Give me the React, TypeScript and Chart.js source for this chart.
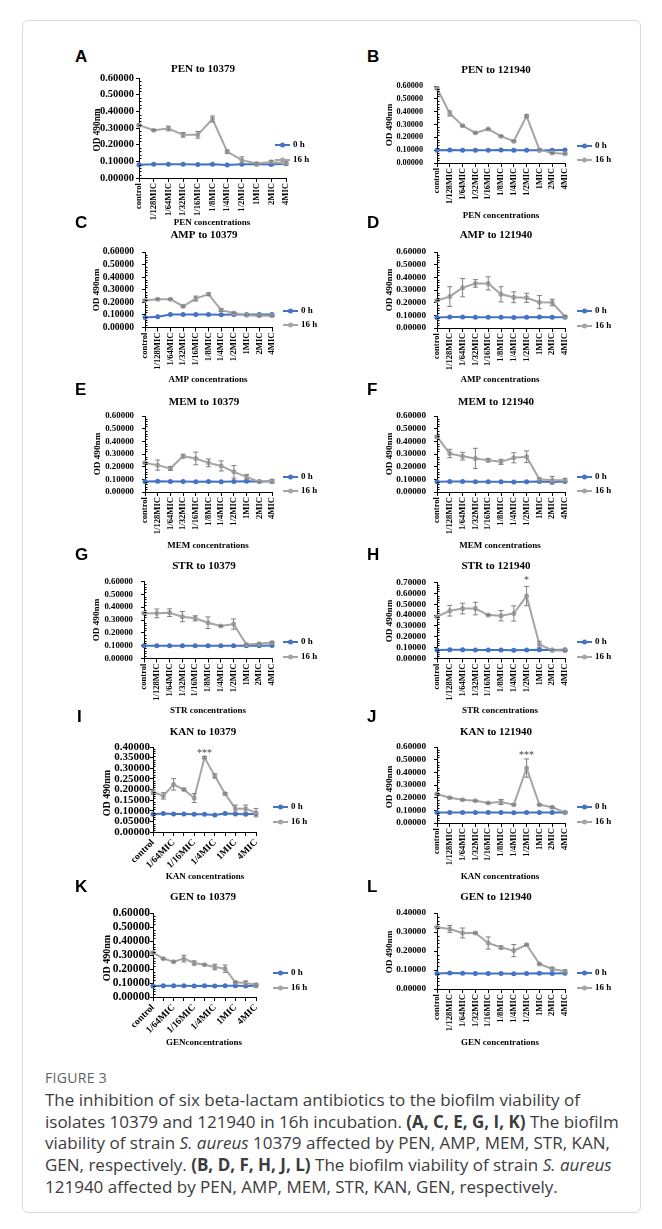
import React, { useEffect, useRef } from "react";
import { Chart, registerables } from "chart.js";
Chart.register(...registerables);

const categories = ["control", "1/128MIC", "1/64MIC", "1/32MIC", "1/16MIC", "1/8MIC", "1/4MIC", "1/2MIC", "1MIC", "2MIC", "4MIC"];
const seriesLabels = ["0 h", "16 h"];

// A  PEN to 10379
const pen10379_0h = [0.080, 0.083, 0.083, 0.082, 0.081, 0.082, 0.078, 0.083, 0.083, 0.081, 0.085];
const pen10379_16h = [0.317, 0.287, 0.297, 0.259, 0.259, 0.354, 0.158, 0.107, 0.087, 0.096, 0.087];
const pen10379_err = [0.006, 0.004, 0.014, 0.014, 0.020, 0.018, 0.010, 0.020, 0.004, 0.010, 0.010];
// B  PEN to 121940
const pen121940_0h = [0.100, 0.102, 0.100, 0.100, 0.100, 0.101, 0.099, 0.100, 0.100, 0.100, 0.102];
const pen121940_16h = [0.582, 0.386, 0.290, 0.235, 0.264, 0.209, 0.170, 0.366, 0.104, 0.078, 0.073];
const pen121940_err = [0.010, 0.020, 0.006, 0.005, 0.006, 0.005, 0.005, 0.010, 0.004, 0.004, 0.004];
// C  AMP to 10379
const amp10379_0h = [0.079, 0.085, 0.104, 0.103, 0.103, 0.103, 0.102, 0.103, 0.103, 0.103, 0.103];
const amp10379_16h = [0.217, 0.225, 0.225, 0.169, 0.230, 0.265, 0.138, 0.116, 0.098, 0.093, 0.093];
const amp10379_err = [0.005, 0.004, 0.004, 0.008, 0.020, 0.010, 0.010, 0.005, 0.005, 0.005, 0.005];
// D  AMP to 121940
const amp121940_0h = [0.083, 0.086, 0.086, 0.085, 0.084, 0.085, 0.082, 0.085, 0.086, 0.084, 0.085];
const amp121940_16h = [0.217, 0.248, 0.318, 0.352, 0.352, 0.266, 0.243, 0.238, 0.204, 0.201, 0.091];
const amp121940_err = [0.006, 0.078, 0.072, 0.030, 0.052, 0.060, 0.043, 0.036, 0.052, 0.026, 0.006];
// E  MEM to 10379
const mem10379_0h = [0.082, 0.085, 0.083, 0.082, 0.081, 0.083, 0.080, 0.082, 0.084, 0.082, 0.085];
const mem10379_16h = [0.230, 0.212, 0.185, 0.283, 0.265, 0.230, 0.206, 0.159, 0.119, 0.080, 0.085];
const mem10379_err = [0.006, 0.040, 0.015, 0.015, 0.050, 0.030, 0.040, 0.050, 0.020, 0.004, 0.015];
// F  MEM to 121940
const mem121940_0h = [0.080, 0.082, 0.082, 0.081, 0.080, 0.081, 0.079, 0.080, 0.082, 0.079, 0.082];
const mem121940_16h = [0.437, 0.304, 0.283, 0.265, 0.251, 0.238, 0.270, 0.278, 0.100, 0.093, 0.093];
const mem121940_err = [0.008, 0.033, 0.030, 0.080, 0.013, 0.020, 0.040, 0.046, 0.010, 0.030, 0.015];
// G  STR to 10379
const str10379_0h = [0.100, 0.100, 0.100, 0.100, 0.099, 0.100, 0.099, 0.100, 0.100, 0.099, 0.101];
const str10379_16h = [0.352, 0.352, 0.357, 0.326, 0.313, 0.279, 0.253, 0.268, 0.109, 0.115, 0.125];
const str10379_err = [0.006, 0.034, 0.030, 0.040, 0.020, 0.045, 0.005, 0.040, 0.004, 0.004, 0.005];
// H  STR to 121940
const str121940_0h = [0.078, 0.080, 0.080, 0.079, 0.078, 0.079, 0.077, 0.079, 0.080, 0.078, 0.080];
const str121940_16h = [0.385, 0.440, 0.460, 0.460, 0.400, 0.394, 0.415, 0.575, 0.129, 0.077, 0.071];
const str121940_err = [0.006, 0.049, 0.049, 0.058, 0.006, 0.048, 0.070, 0.089, 0.030, 0.004, 0.004];
// I  KAN to 10379
const kan10379_0h = [0.083, 0.087, 0.085, 0.085, 0.083, 0.084, 0.080, 0.087, 0.085, 0.083, 0.086];
const kan10379_16h = [0.188, 0.170, 0.224, 0.200, 0.160, 0.350, 0.264, 0.180, 0.110, 0.110, 0.091];
const kan10379_err = [0.010, 0.015, 0.027, 0.005, 0.021, 0.005, 0.010, 0.005, 0.017, 0.017, 0.020];
// J  KAN to 121940
const kan121940_0h = [0.082, 0.083, 0.083, 0.082, 0.082, 0.083, 0.081, 0.083, 0.083, 0.082, 0.083];
const kan121940_16h = [0.229, 0.200, 0.184, 0.176, 0.158, 0.166, 0.145, 0.434, 0.145, 0.124, 0.084];
const kan121940_err = [0.005, 0.004, 0.004, 0.004, 0.004, 0.020, 0.004, 0.072, 0.004, 0.006, 0.004];
// K  GEN to 10379
const gen10379_0h = [0.079, 0.081, 0.080, 0.080, 0.079, 0.080, 0.078, 0.080, 0.081, 0.079, 0.081];
const gen10379_16h = [0.317, 0.274, 0.252, 0.274, 0.243, 0.231, 0.214, 0.202, 0.105, 0.100, 0.088];
const gen10379_err = [0.005, 0.005, 0.006, 0.024, 0.015, 0.005, 0.020, 0.026, 0.005, 0.015, 0.006];
// L  GEN to 121940
const gen121940_0h = [0.082, 0.084, 0.083, 0.082, 0.081, 0.082, 0.080, 0.082, 0.083, 0.082, 0.083];
const gen121940_16h = [0.325, 0.316, 0.295, 0.295, 0.242, 0.219, 0.202, 0.233, 0.132, 0.105, 0.093];
const gen121940_err = [0.004, 0.018, 0.026, 0.004, 0.032, 0.008, 0.032, 0.004, 0.004, 0.010, 0.007];

const panelLetters = ["A", "B", "C", "D", "E", "F", "G", "H", "I", "J", "K", "L"];
const panelTitles = ["PEN to 10379", "PEN to 121940", "AMP to 10379", "AMP to 121940", "MEM to 10379", "MEM to 121940", "STR to 10379", "STR to 121940", "KAN to 10379", "KAN to 121940", "GEN to 10379", "GEN to 121940"];
const xAxisTitles = ["PEN concentrations", "PEN concentrations", "AMP concentrations", "AMP concentrations", "MEM concentrations", "MEM concentrations", "STR concentrations", "STR concentrations", "KAN concentrations", "KAN concentrations", "GENconcentrations", "GEN concentrations"];
const yAxisTitle = "OD 490nm";
const yAxisMax = [0.6, 0.6, 0.6, 0.6, 0.6, 0.6, 0.6, 0.7, 0.4, 0.6, 0.6, 0.4];
const yAxisStep = [0.1, 0.1, 0.1, 0.1, 0.1, 0.1, 0.1, 0.1, 0.05, 0.1, 0.1, 0.1];
const significance = [null, null, null, null, null, null, null, { index: 7, text: "*" }, { index: 5, text: "***" }, { index: 7, text: "***" }, null, null];

const series0h = [pen10379_0h, pen121940_0h, amp10379_0h, amp121940_0h, mem10379_0h, mem121940_0h, str10379_0h, str121940_0h, kan10379_0h, kan121940_0h, gen10379_0h, gen121940_0h];
const series16h = [pen10379_16h, pen121940_16h, amp10379_16h, amp121940_16h, mem10379_16h, mem121940_16h, str10379_16h, str121940_16h, kan10379_16h, kan121940_16h, gen10379_16h, gen121940_16h];
const series16hErr = [pen10379_err, pen121940_err, amp10379_err, amp121940_err, mem10379_err, mem121940_err, str10379_err, str121940_err, kan10379_err, kan121940_err, gen10379_err, gen121940_err];

// Layout (page pixel coordinates)
type Lay = {
  plot: [number, number, number, number];
  tickFont: number; tickPad: number; labelFont: number; rot: number;
  title: [number, number]; xTitle: [number, number]; yTitle: [number, number]; yTitleFont: number;
  legend: [number, number, number]; letter: [number, number]; starY: number;
};
const layouts: Lay[] = [
  { plot: [139, 78, 286, 178], tickFont: 10.5, tickPad: 2, labelFont: 8.6, rot: 90, title: [203, 69], xTitle: [212, 223], yTitle: [98, 130], yTitleFont: 9.3, legend: [275, 145, 160], letter: [75, 57], starY: 0 },
  { plot: [437, 86, 565, 163], tickFont: 8.2, tickPad: 11, labelFont: 8.3, rot: 90, title: [496, 70], xTitle: [501, 216], yTitle: [390, 125], yTitleFont: 9.2, legend: [577, 146, 160], letter: [367, 57], starY: 0 },
  { plot: [145, 252, 272, 327.5], tickFont: 9.6, tickPad: 8, labelFont: 8.6, rot: 90, title: [204, 235], xTitle: [208, 380], yTitle: [97, 290], yTitleFont: 9.2, legend: [283, 311, 325], letter: [75, 223], starY: 0 },
  { plot: [437, 252, 565, 328], tickFont: 9.2, tickPad: 8, labelFont: 8.6, rot: 90, title: [496, 235], xTitle: [500, 380], yTitle: [390, 290], yTitleFont: 9.2, legend: [577, 311, 326], letter: [367, 223], starY: 0 },
  { plot: [145, 416, 272, 492], tickFont: 8.9, tickPad: 8, labelFont: 8.6, rot: 90, title: [204, 402], xTitle: [208, 546], yTitle: [98, 454], yTitleFont: 9.2, legend: [283, 477, 491], letter: [75, 390], starY: 0 },
  { plot: [437, 416, 565, 492], tickFont: 9.2, tickPad: 8, labelFont: 8.6, rot: 90, title: [496, 402], xTitle: [500, 546], yTitle: [390, 454], yTitleFont: 9.2, legend: [577, 477, 491], letter: [367, 390], starY: 0 },
  { plot: [144, 581.5, 272, 658.5], tickFont: 8.8, tickPad: 8, labelFont: 8.6, rot: 90, title: [204, 566], xTitle: [208, 711], yTitle: [97, 620], yTitleFont: 9.2, legend: [283, 642, 657], letter: [75, 555], starY: 0 },
  { plot: [437, 582.5, 565, 658.5], tickFont: 9.2, tickPad: 8, labelFont: 8.6, rot: 90, title: [496, 566], xTitle: [500, 711], yTitle: [390, 621], yTitleFont: 9.2, legend: [577, 642, 657], letter: [367, 555], starY: 578 },
  { plot: [153, 747, 256, 832], tickFont: 11, tickPad: 0, labelFont: 9.5, rot: 45, title: [203, 732], xTitle: [205, 877], yTitle: [107, 793], yTitleFont: 10, legend: [273, 807, 822], letter: [77, 717], starY: 751 },
  { plot: [437, 747, 565, 823], tickFont: 9.2, tickPad: 8, labelFont: 8.6, rot: 90, title: [496, 732], xTitle: [500, 877], yTitle: [390, 787], yTitleFont: 9.2, legend: [577, 807, 822], letter: [367, 717], starY: 753 },
  { plot: [153, 913, 256, 997], tickFont: 11.5, tickPad: 0, labelFont: 9.5, rot: 45, title: [203, 897], xTitle: [204, 1043], yTitle: [107, 958], yTitleFont: 10, legend: [273, 973, 988], letter: [75, 887], starY: 0 },
  { plot: [437, 913, 565, 989], tickFont: 9.2, tickPad: 8, labelFont: 8.6, rot: 90, title: [496, 897], xTitle: [500, 1043], yTitle: [390, 952], yTitleFont: 9.2, legend: [577, 973, 988], letter: [367, 887], starY: 0 },
];

const SERIF = "'Liberation Serif', 'Times New Roman', serif";
const BLUE = "#4472C4";
const GRAY = "#A5A5A5";
const ERR = "#7F7F7F";

function canvasRect(i: number): [number, number, number, number] {
  const L = layouts[i];
  const x = i % 2 === 0 ? 30 : 330;
  const y = L.title[1] - 12;
  const h = L.xTitle[1] + 9 - y;
  return [x, y, 300, h];
}

function makeChart(canvas: HTMLCanvasElement, i: number) {
  const L = layouts[i];
  const [cx, cy, cw, ch] = canvasRect(i);
  const [pl, pt, pr, pb] = L.plot;
  const PADL = 2, PADB = 2;
  const YW = pl - cx - PADL;
  const XH = cy + ch - pb - PADB;
  const v0 = series0h[i], v16 = series16h[i], err = series16hErr[i];
  const sig = significance[i];

  const decor = {
    id: "decor" + i,
    afterDatasetsDraw(chart: any) {
      const ctx = chart.ctx;
      const ys = chart.scales.y;
      const meta = chart.getDatasetMeta(0);
      ctx.save();
      ctx.strokeStyle = ERR;
      ctx.lineWidth = 1;
      meta.data.forEach((p: any, k: number) => {
        const e = err[k];
        const yt = ys.getPixelForValue(v16[k] + e);
        const yb = ys.getPixelForValue(Math.max(0, v16[k] - e));
        ctx.beginPath();
        ctx.moveTo(p.x, yt); ctx.lineTo(p.x, yb);
        ctx.moveTo(p.x - 2.5, yt); ctx.lineTo(p.x + 2.5, yt);
        ctx.moveTo(p.x - 2.5, yb); ctx.lineTo(p.x + 2.5, yb);
        ctx.stroke();
      });
      ctx.restore();
    },
    afterDraw(chart: any) {
      const ctx = chart.ctx;
      const ys = chart.scales.y;
      const xs = chart.scales.x;
      const ca = chart.chartArea;
      ctx.save();
      // minor ticks on the y axis
      ctx.strokeStyle = "#000";
      ctx.lineWidth = 1;
      const step = yAxisStep[i];
      const nMinor = Math.round(yAxisMax[i] / step) * 5;
      ctx.beginPath();
      for (let k = 1; k < nMinor; k++) {
        if (k % 5 === 0) continue;
        const y = Math.round(ys.getPixelForValue((k * step) / 5)) + 0.5;
        ctx.moveTo(ca.left, y); ctx.lineTo(ca.left + 2.5, y);
      }
      ctx.stroke();

      ctx.fillStyle = "#000";
      ctx.textAlign = "center";
      ctx.textBaseline = "middle";
      ctx.font = `bold 11px ${SERIF}`;
      ctx.fillText(panelTitles[i], L.title[0] - cx, L.title[1] - cy);
      ctx.font = `bold 9px ${SERIF}`;
      ctx.fillText(xAxisTitles[i], L.xTitle[0] - cx, L.xTitle[1] - cy);
      ctx.save();
      ctx.translate(L.yTitle[0] - cx, L.yTitle[1] - cy);
      ctx.rotate(-Math.PI / 2);
      ctx.font = `bold ${L.yTitleFont}px ${SERIF}`;
      ctx.fillText(yAxisTitle, 0, 0);
      ctx.restore();

      // legend
      const items = [
        { color: BLUE, text: seriesLabels[0], y: L.legend[1] },
        { color: GRAY, text: seriesLabels[1], y: L.legend[2] },
      ];
      items.forEach((it) => {
        const lx = L.legend[0] - cx, ly = it.y - cy;
        ctx.strokeStyle = it.color;
        ctx.lineWidth = 2;
        ctx.beginPath(); ctx.moveTo(lx, ly); ctx.lineTo(lx + 15, ly); ctx.stroke();
        ctx.fillStyle = it.color;
        ctx.beginPath(); ctx.arc(lx + 7.5, ly, 2.5, 0, Math.PI * 2); ctx.fill();
        ctx.fillStyle = "#000";
        ctx.font = `bold 9px ${SERIF}`;
        ctx.textAlign = "left";
        ctx.fillText(it.text, lx + 18, ly);
      });

      if (sig) {
        ctx.fillStyle = "#404040";
        ctx.textAlign = "center";
        ctx.font = `10px ${SERIF}`;
        ctx.fillText(sig.text, xs.getPixelForValue(sig.index), L.starY - cy + 2);
      }
      ctx.restore();
    },
  };

  const font = (s: number) => ({ family: SERIF, size: s, weight: "bold" as const });

  return new Chart(canvas, {
    type: "line",
    data: {
      labels: categories,
      datasets: [
        { label: seriesLabels[1], data: v16, borderColor: GRAY, backgroundColor: GRAY, borderWidth: 2, pointRadius: 2.5, pointBorderWidth: 0, pointBackgroundColor: GRAY, tension: 0 },
        { label: seriesLabels[0], data: v0, borderColor: BLUE, backgroundColor: BLUE, borderWidth: 2, pointRadius: 2.5, pointBorderWidth: 0, pointBackgroundColor: BLUE, tension: 0 },
      ],
    },
    options: {
      responsive: false,
      animation: false,
      devicePixelRatio: 1,
      layout: {
        padding: {
          left: PADL,
          top: pt - cy,
          right: cx + cw - pr,
          bottom: PADB,
        },
      },
      plugins: { legend: { display: false }, tooltip: { enabled: false }, title: { display: false } },
      scales: {
        x: {
          type: "category",
          offset: false,
          afterFit: (s: any) => { s.height = XH; },
          grid: { display: true, drawOnChartArea: false, drawTicks: true, tickLength: 4, color: "#000", lineWidth: 1 },
          border: { display: true, color: "#000", width: 1 },
          ticks: {
            autoSkip: false,
            minRotation: L.rot,
            maxRotation: L.rot,
            padding: 1,
            color: "#000",
            font: font(L.labelFont),
            callback: (_v: any, idx: number) => (L.rot === 45 && idx % 2 === 1 ? "" : categories[idx]),
          },
        },
        y: {
          min: 0,
          max: yAxisMax[i],
          afterFit: (s: any) => { s.width = YW; },
          grid: { display: true, drawOnChartArea: false, drawTicks: true, tickLength: 3, color: "#000", lineWidth: 1 },
          border: { display: true, color: "#000", width: 1 },
          ticks: {
            autoSkip: false,
            stepSize: yAxisStep[i],
            padding: L.tickPad,
            color: "#000",
            font: font(L.tickFont),
            callback: (v: any) => Number(v).toFixed(5),
          },
        },
      },
    },
    plugins: [decor],
  } as any);
}

export default function App() {
  const refs = useRef<(HTMLCanvasElement | null)[]>([]);
  useEffect(() => {
    const charts = layouts.map((_, i) => makeChart(refs.current[i] as HTMLCanvasElement, i));
    return () => charts.forEach((c) => c.destroy());
  }, []);

  const sans = "'Open Sans', 'Noto Sans', sans-serif";
  return (
    <div style={{ position: "absolute", left: 0, top: 0, width: 662, height: 1229, background: "#fff", overflow: "hidden" }}>
      <div style={{ position: "absolute", left: 22, top: 20, width: 617, height: 1191, border: "1px solid #d9d9d9", borderRadius: 6 }} />
      {layouts.map((L, i) => {
        const [x, y, w, h] = canvasRect(i);
        return (
          <React.Fragment key={i}>
            <div style={{ position: "absolute", left: L.letter[0], top: L.letter[1] - 10, fontFamily: "'Liberation Sans', Arial, sans-serif", fontWeight: 700, fontSize: 17, lineHeight: "20px", color: "#000" }}>
              {panelLetters[i]}
            </div>
            <canvas
              ref={(el) => { refs.current[i] = el; }}
              width={w}
              height={h}
              style={{ position: "absolute", left: x, top: y, width: w, height: h }}
            />
          </React.Fragment>
        );
      })}
      <div style={{ position: "absolute", left: 45, top: 1068, fontFamily: sans, fontSize: 14, lineHeight: "20px", color: "#5f5f5f", letterSpacing: 0.3 }}>FIGURE 3</div>
      <div style={{ position: "absolute", left: 45, top: 1089, fontFamily: sans, fontSize: 17, lineHeight: "21.7px", color: "#3c3c3c", whiteSpace: "nowrap" }}>
        The inhibition of six beta-lactam antibiotics to the biofilm viability of<br />
        isolates 10379 and 121940 in 16h incubation. <b>(A, C, E, G, I, K)</b> The biofilm<br />
        viability of strain <i>S. aureus</i> 10379 affected by PEN, AMP, MEM, STR, KAN,<br />
        GEN, respectively. <b>(B, D, F, H, J, L)</b> The biofilm viability of strain <i>S. aureus</i><br />
        121940 affected by PEN, AMP, MEM, STR, KAN, GEN, respectively.
      </div>
    </div>
  );
}
